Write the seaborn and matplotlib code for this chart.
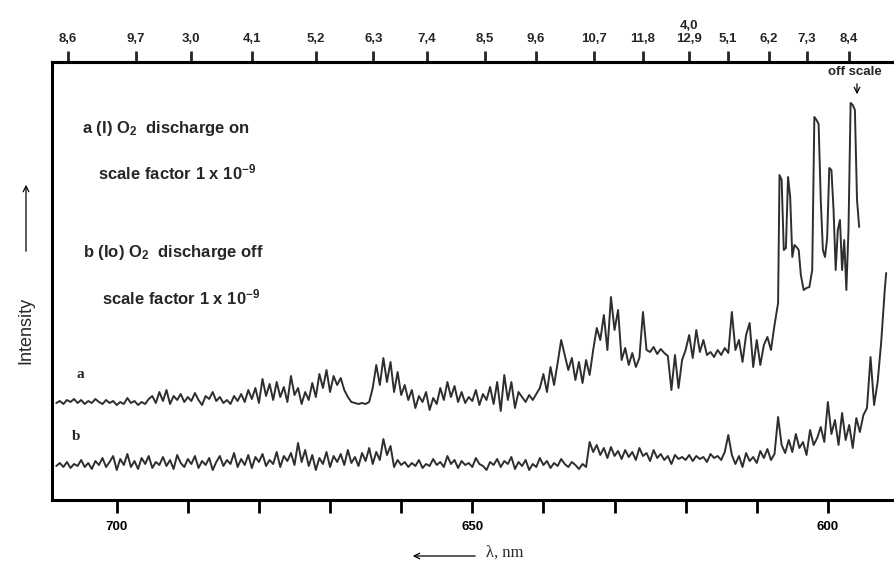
import matplotlib
matplotlib.use("Agg")
import matplotlib.pyplot as plt
import pandas as pd
import seaborn as sns

# wavelength grid (nm, 0.5 nm steps)
wl_grid = [
    708.5, 708.0, 707.5, 707.0, 706.5, 706.0, 705.5, 705.0, 704.5, 704.0,
    703.5, 703.0, 702.5, 702.0, 701.5, 701.0, 700.5, 700.0, 699.5, 699.0,
    698.5, 698.0, 697.5, 697.0, 696.5, 696.0, 695.5, 695.0, 694.5, 694.0,
    693.5, 693.0, 692.5, 692.0, 691.5, 691.0, 690.5, 690.0, 689.5, 689.0,
    688.5, 688.0, 687.5, 687.0, 686.5, 686.0, 685.5, 685.0, 684.5, 684.0,
    683.5, 683.0, 682.5, 682.0, 681.5, 681.0, 680.5, 680.0, 679.5, 679.0,
    678.5, 678.0, 677.5, 677.0, 676.5, 676.0, 675.5, 675.0, 674.5, 674.0,
    673.5, 673.0, 672.5, 672.0, 671.5, 671.0, 670.5, 670.0, 669.5, 669.0,
    668.5, 668.0, 667.5, 667.0, 666.5, 666.0, 665.5, 665.0, 664.5, 664.0,
    663.5, 663.0, 662.5, 662.0, 661.5, 661.0, 660.5, 660.0, 659.5, 659.0,
    658.5, 658.0, 657.5, 657.0, 656.5, 656.0, 655.5, 655.0, 654.5, 654.0,
    653.5, 653.0, 652.5, 652.0, 651.5, 651.0, 650.5, 650.0, 649.5, 649.0,
    648.5, 648.0, 647.5, 647.0, 646.5, 646.0, 645.5, 645.0, 644.5, 644.0,
    643.5, 643.0, 642.5, 642.0, 641.5, 641.0, 640.5, 640.0, 639.5, 639.0,
    638.5, 638.0, 637.5, 637.0, 636.5, 636.0, 635.5, 635.0, 634.5, 634.0,
    633.5, 633.0, 632.5, 632.0, 631.5, 631.0, 630.5, 630.0, 629.5, 629.0,
    628.5, 628.0, 627.5, 627.0, 626.5, 626.0, 625.5, 625.0, 624.5, 624.0,
    623.5, 623.0, 622.5, 622.0, 621.5, 621.0, 620.5, 620.0, 619.5, 619.0,
    618.5, 618.0, 617.5, 617.0, 616.5, 616.0, 615.5, 615.0, 614.5, 614.0,
    613.5, 613.0, 612.5, 612.0, 611.5, 611.0, 610.5, 610.0, 609.5, 609.0,
    608.5, 608.0, 607.5, 607.0, 606.5, 606.0, 605.5, 605.0, 604.5, 604.0,
    603.5, 603.0, 602.5, 602.0, 601.5, 601.0, 600.5, 600.0, 599.5, 599.0,
    598.5, 598.0, 597.5, 597.0, 596.5, 596.0, 595.5, 595.0, 594.5, 594.0,
    593.5, 593.0, 592.5, 592.0,
]

# trace a: discharge on (finer steps over the off-scale region)
wl_a_tail = [
    606.8, 606.5, 606.2, 605.9, 605.6, 605.3, 605.0, 604.7, 604.4, 604.1,
    603.8, 603.4, 603.0, 602.6, 602.2, 601.9, 601.6, 601.3, 601.0, 600.7,
    600.4, 600.1, 599.8, 599.5, 599.2, 598.9, 598.6, 598.3, 598.0, 597.7,
    597.4, 597.1, 596.8, 596.5, 596.2, 595.9, 595.6,
]
int_a = [
    97, 99, 96, 100, 98, 101, 97, 100, 96, 99,
    97, 101, 98, 96, 100, 97, 99, 95, 98, 96,
    102, 97, 99, 95, 98, 96, 101, 104, 97, 108,
    99, 110, 96, 104, 100, 106, 98, 103, 99, 107,
    100, 95, 104, 101, 108, 99, 103, 97, 100, 96,
    104, 99, 106, 98, 110, 101, 112, 97, 121, 104,
    116, 100, 118, 103, 113, 98, 124, 105, 112, 96,
    108, 100, 117, 103, 126, 112, 130, 108, 124, 115,
    122, 110, 103, 98, 97, 96, 97, 96, 98, 112,
    135, 115, 142, 118, 138, 108, 128, 105, 115, 100,
    110, 92, 104, 98, 108, 90, 102, 96, 112, 100,
    118, 103, 114, 98, 108, 97, 103, 99, 110, 95,
    106, 100, 113, 96, 118, 89, 125, 100, 118, 92,
    108, 103, 98, 105, 100, 106, 112, 126, 108, 133,
    115, 137, 160, 145, 130, 142, 120, 138, 117, 140,
    125, 150, 172, 160, 185, 150, 203, 170, 190, 140,
    152, 135, 147, 133, 142, 188, 150, 148, 153, 146,
    151, 147, 144, 110, 145, 112, 140, 150, 165, 142,
    170, 148, 160, 145, 148, 143, 150, 145, 152, 147,
    188, 150, 160, 138, 165, 177, 133, 160, 135, 155,
    163, 150, 175, 197,
    325, 320, 250, 252, 323, 303, 243, 255, 253, 250,
    225, 210, 212, 213, 230, 383, 380, 376, 300, 250,
    243, 262, 332, 330, 290, 230, 270, 280, 230, 260,
    210, 270, 397, 395, 390, 300, 273,
]

# trace b: discharge off
int_b = [
    34, 37, 33, 38, 32, 36, 34, 40, 33, 37,
    31, 39, 35, 42, 33, 38, 44, 30, 41, 35,
    46, 33, 39, 31, 42, 36, 44, 32, 38, 35,
    43, 34, 40, 31, 45, 37, 33, 41, 36, 44,
    32, 39, 35, 42, 30, 38, 44, 34, 40, 36,
    47, 33, 41, 35, 45, 32, 43, 38, 46, 34,
    40, 36, 48, 33, 44, 39, 47, 35, 57, 38,
    50, 34, 45, 30, 42, 36, 48, 33, 44, 38,
    46, 35, 50, 37, 43, 34, 47, 39, 52, 36,
    48, 40, 61, 45, 54, 33, 40, 35, 38, 33,
    37, 34, 40, 32, 36, 34, 41, 35, 38, 33,
    44, 36, 40, 32, 39, 35, 37, 33, 42, 36,
    34, 30, 38, 35, 41, 33, 39, 36, 43, 31,
    38, 34, 40, 30, 36, 33, 42, 35, 39, 32,
    37, 34, 41, 36, 33, 38, 35, 31, 36, 33,
    58, 48, 55, 45, 52, 42, 53, 44, 49, 41,
    50, 43, 48, 40, 52, 44, 47, 39, 50, 42,
    46, 40, 44, 36, 45, 41, 43, 40, 45, 39,
    44, 41, 43, 38, 46, 42, 44, 40, 48, 65,
    45, 36, 44, 33, 47, 39, 43, 37, 49, 42,
    51, 40, 46, 83, 55, 47, 60, 48, 66, 52,
    58, 45, 70, 55, 62, 73, 58, 98, 66, 80,
    55, 87, 60, 75, 52, 82, 68, 85, 92, 143,
    95, 118, 158, 210,
    227,
]

# band labels on the top axis (v', v'') and their wavelengths
band_wl = [706.9, 697.3, 689.6, 681.0, 672.0, 663.9, 656.4, 648.2,
           641.1, 632.9, 626.0, 619.5, 614.1, 608.3, 603.0, 597.0]
band_labels = ["8,6", "9,7", "3,0", "4,1", "5,2", "6,3", "7,4", "8,5",
               "9,6", "10,7", "11,8", "4,0\n12,9", "5,1", "6,2", "7,3", "8,4"]

wl_a = wl_grid[:204] + wl_a_tail
wl_b = wl_grid + [591.8]

df_a = pd.DataFrame({"wl": wl_a, "I": int_a})
df_b = pd.DataFrame({"wl": wl_b, "I": int_b})

sns.set_style("white")
plt.rcParams["font.family"] = ["Liberation Sans", "DejaVu Sans"]
plt.rcParams["mathtext.fontset"] = "custom"
plt.rcParams["mathtext.rm"] = "Liberation Sans:bold"
plt.rcParams["mathtext.bf"] = "Liberation Sans:bold"
plt.rcParams["mathtext.it"] = "Liberation Sans:bold"

W, H = 894, 570
fig = plt.figure(figsize=(W / 100, H / 100), dpi=100)
ax = fig.add_axes([52 / W, 70 / H, (W - 52) / W, 438 / H])

line_col = "#2e2e2e"
sns.lineplot(data=df_a, x="wl", y="I", ax=ax, color=line_col, lw=1.4,
             estimator=None, sort=False)
sns.lineplot(data=df_b, x="wl", y="I", ax=ax, color=line_col, lw=1.4,
             estimator=None, sort=False)

ax.set_xlim(709.1, 590.7)
ax.set_ylim(0, 438)
ax.set_yticks([])
ax.set_xlabel("")
ax.set_ylabel("")
ax.set_xticks([700, 690, 680, 670, 660, 650, 640, 630, 620, 610, 600])
ax.set_xticklabels(["700", "", "", "", "", "650", "", "", "", "", "600"],
                   fontweight="bold", fontsize=9.5)
ax.tick_params(axis="x", bottom=True, direction="out", length=9, width=2,
               pad=6, colors="black")
for s in ["left", "bottom", "top"]:
    ax.spines[s].set_linewidth(2.2)
    ax.spines[s].set_color("black")
ax.spines["right"].set_visible(False)

top = ax.secondary_xaxis("top")
top.set_xticks(band_wl)
top.set_xticklabels(band_labels, fontweight="bold", fontsize=9.5)
top.tick_params(top=True, direction="out", length=8, width=2, pad=4)
top.spines["top"].set_linewidth(2.2)


def ftext(x, y, s, **kw):
    fig.text(x / W, 1 - y / H, s, **kw)


bold = dict(fontweight="bold", fontsize=12, ha="left", va="center")
ftext(82, 128, r"a (I) O$_{2}$  discharge on", **bold)
ftext(98, 172, r"scale factor 1 x 10$^{-9}$", **bold)
ftext(83, 252, r"b (Io) O$_{2}$  discharge off", **bold)
ftext(102, 297, r"scale factor 1 x 10$^{-9}$", **bold)

ftext(80, 375, "a", family=["Liberation Serif", "DejaVu Serif"],
      fontweight="bold", fontsize=11, ha="center", va="center")
ftext(76, 437, "b", family=["Liberation Serif", "DejaVu Serif"],
      fontweight="bold", fontsize=11, ha="center", va="center")

ftext(855, 72, "off scale", fontweight="bold", fontsize=9.5, ha="center", va="center")
fig.add_artist(plt.Annotation("", xy=(857 / W, 1 - 97 / H), xytext=(857 / W, 1 - 81 / H),
                              xycoords="figure fraction", textcoords="figure fraction",
                              arrowprops=dict(arrowstyle="->", lw=0.9, color="black")))

# y label with arrow
ftext(26, 330, "Intensity", fontsize=13, rotation=90, ha="center", va="center")
fig.add_artist(plt.Annotation("", xy=(26 / W, 1 - 182 / H), xytext=(26 / W, 1 - 254 / H),
                              xycoords="figure fraction", textcoords="figure fraction",
                              arrowprops=dict(arrowstyle="->", lw=0.9, color="black")))

# x label with arrow
ftext(486, 553, "λ, nm", family=["Liberation Serif", "DejaVu Serif"],
      fontsize=12, ha="left", va="center")
fig.add_artist(plt.Annotation("", xy=(410 / W, 1 - 556 / H), xytext=(478 / W, 1 - 556 / H),
                              xycoords="figure fraction", textcoords="figure fraction",
                              arrowprops=dict(arrowstyle="->", lw=0.9, color="black")))

fig.savefig("out.png", dpi=100, facecolor="white")
